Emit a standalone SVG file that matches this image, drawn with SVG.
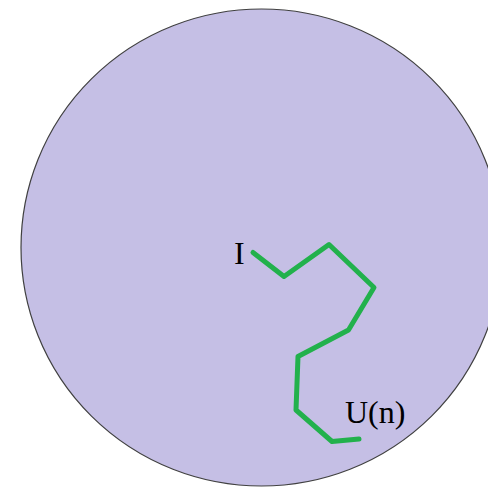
<svg xmlns="http://www.w3.org/2000/svg" width="488" height="487" viewBox="0 0 488 487">
<style>
.lbl{font-family:"Liberation Serif","Times New Roman",serif;font-size:32px;fill:#000}
.walk{fill:none;stroke:#22B14C;stroke-width:5;stroke-linecap:round;stroke-linejoin:round}
</style>
<rect width="488" height="487" fill="#fff"/>
<g id="disk">
<ellipse cx="261.5" cy="247.5" rx="240.5" ry="238.5" fill="#C5BFE5" stroke="#404040" stroke-width="1.2"/>
</g>
<g id="connectors">
<polyline class="walk" points="253,252.5 284,276.5 329,244.5 374,287.5 348.5,330 298,356.5 296,410 332,441.5 359,439"/>
</g>
<g id="label-I"><text class="lbl" x="234" y="264">I</text></g>
<g id="label-Un"><text class="lbl" x="345" y="423">U(n)</text></g>
</svg>
